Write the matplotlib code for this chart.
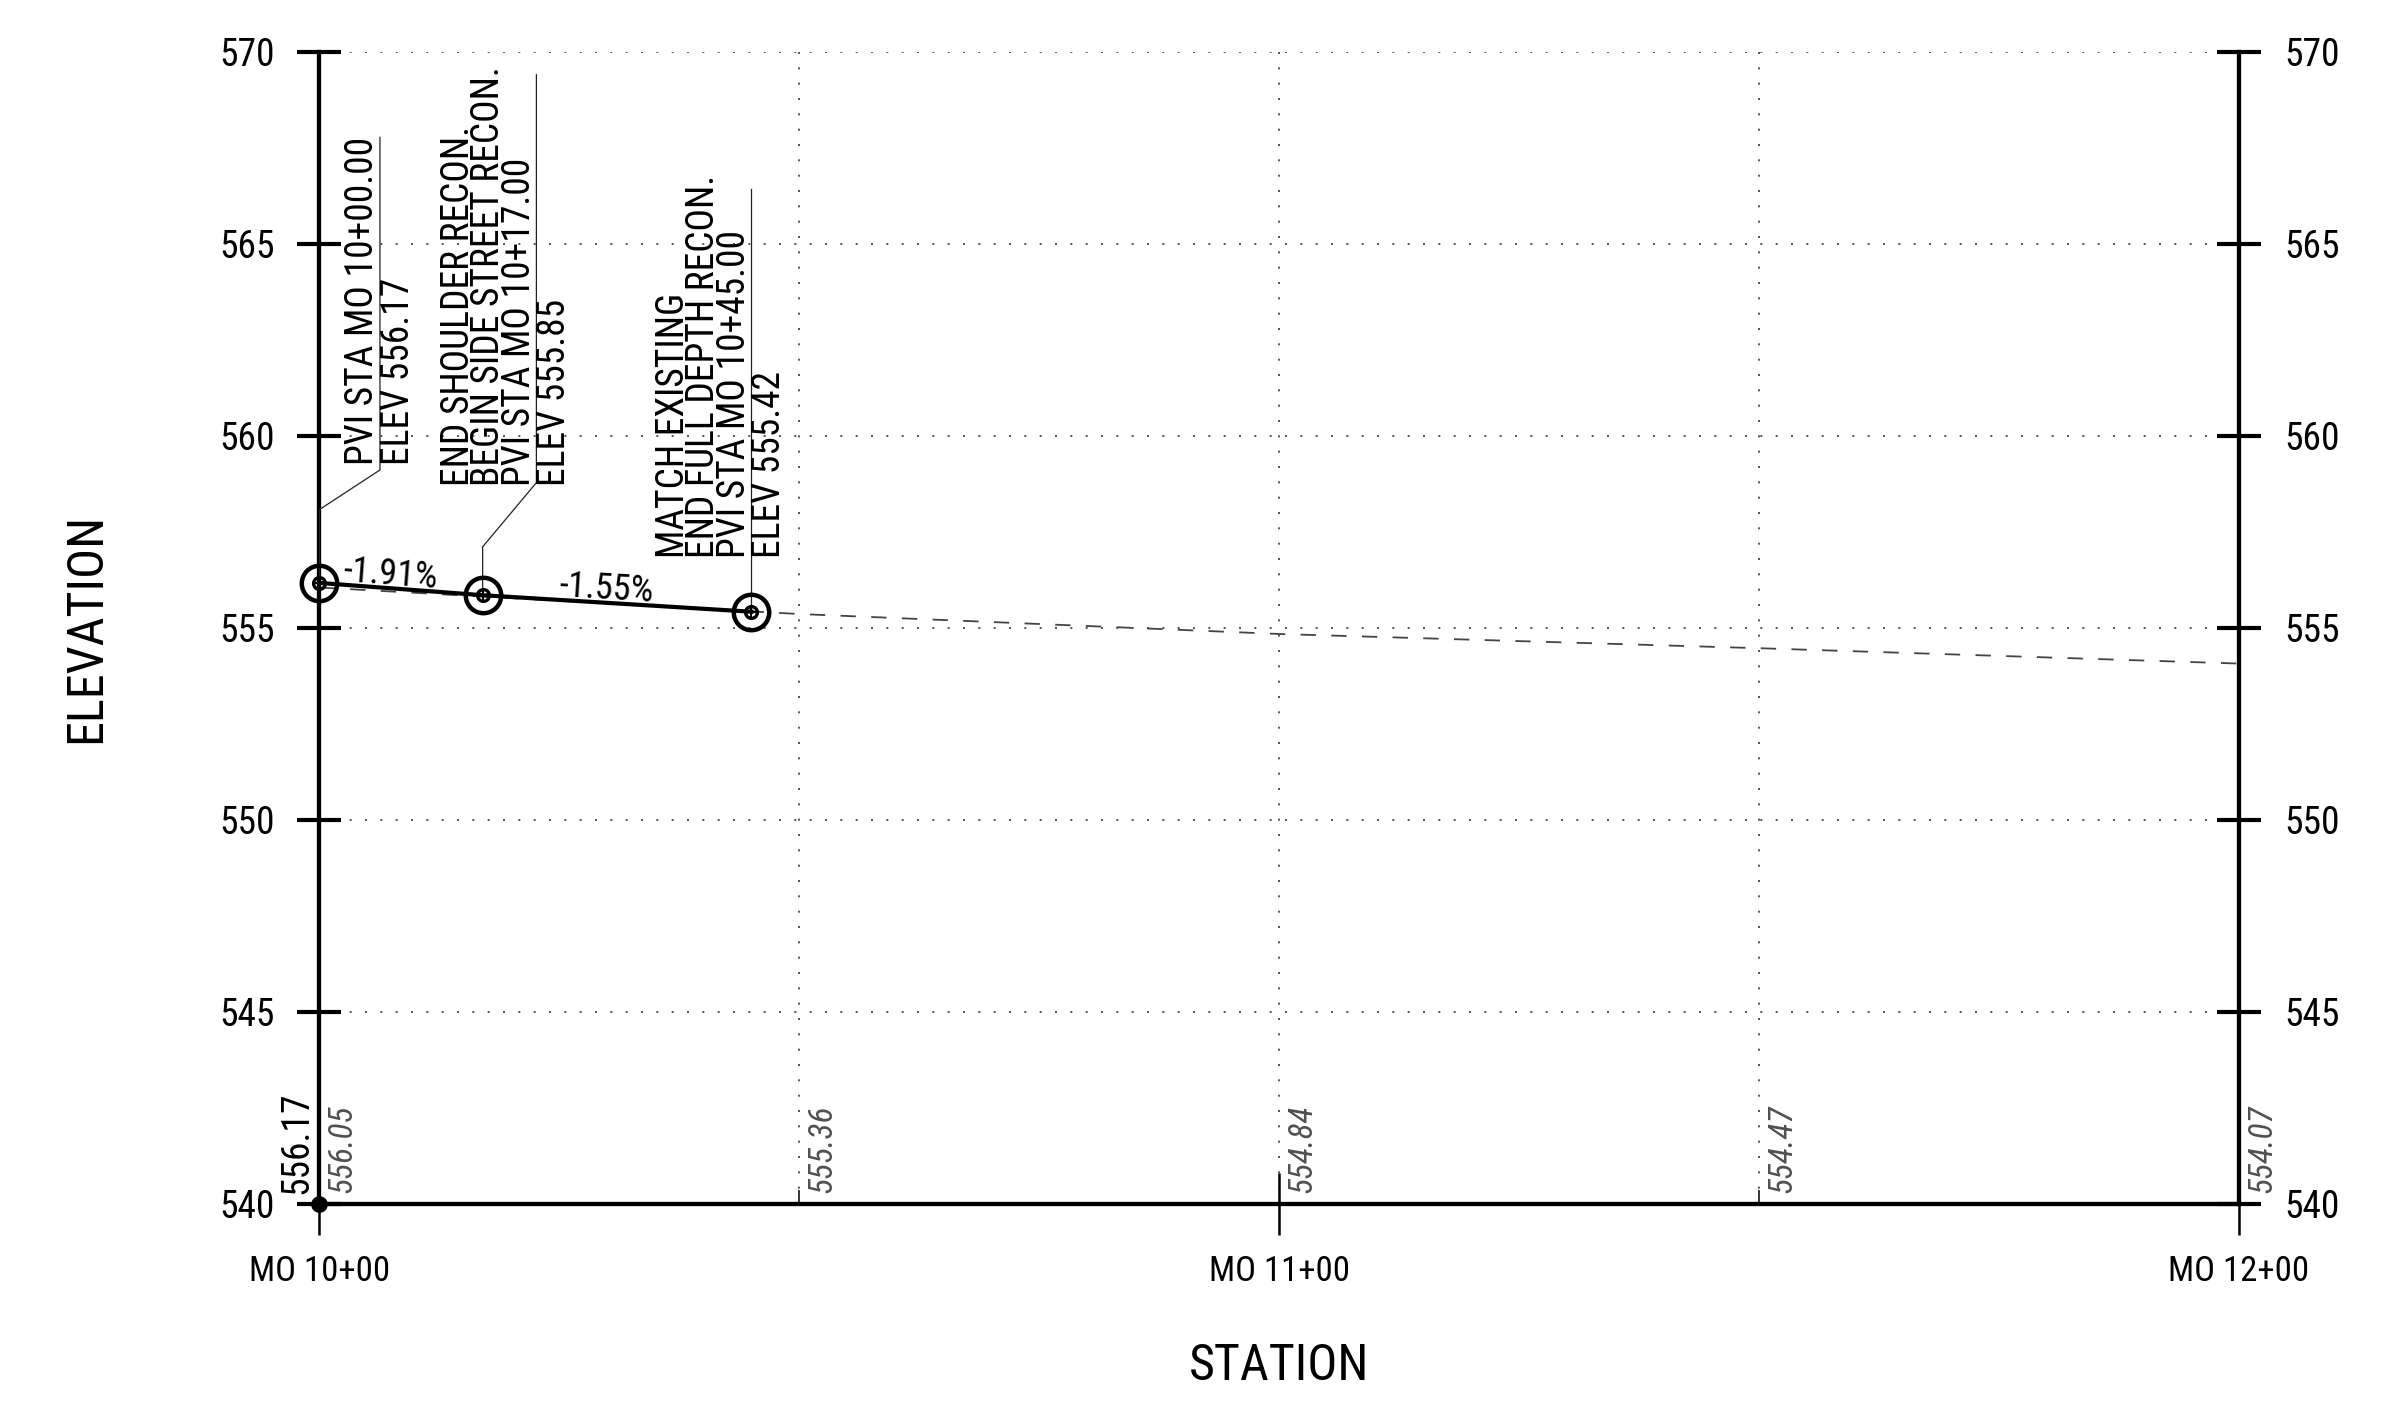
import numpy as np
import matplotlib
matplotlib.use("Agg")
import matplotlib.pyplot as plt
from matplotlib import font_manager as fm

# proposed profile (PVIs)
pvi_sta = [1000, 1017, 1045]
pvi_elev = [556.17, 555.85, 555.42]
grade_labels = ['-1.91%', '-1.55%']

# existing ground, labelled every 50 ft
eg_sta = [1000, 1050, 1100, 1150, 1200]
eg_elev = [556.05, 555.36, 554.84, 554.47, 554.07]

# axes ticks
sta_ticks = [1000, 1100, 1200]
sta_labels = ['MO 10+00', 'MO 11+00', 'MO 12+00']
sta_minor = [1050, 1150]
elev_ticks = [540, 545, 550, 555, 560, 565, 570]

# PVI callout text (lines left of the leader, then the line right of it)
pvi_notes = [
    ['PVI STA MO 10+00.00'],
    ['END SHOULDER RECON.', 'BEGIN SIDE STREET RECON.', 'PVI STA MO 10+17.00'],
    ['MATCH EXISTING', 'END FULL DEPTH RECON.', 'PVI STA MO 10+45.00'],
]
pvi_elev_notes = ['ELEV 556.17', 'ELEV 555.85', 'ELEV 555.42']

# look for a narrow sans face, the drawing uses a condensed CAD font
narrow_stretch = ('condensed', 'semi-condensed', 'extra-condensed', 'ultra-condensed')
found = {}
for f in fm.fontManager.ttflist:
    nm = f.name.lower()
    if 'mono' in nm or 'serif' in nm:
        continue
    if f.stretch in narrow_stretch or 'narrow' in nm or 'condensed' in nm:
        found.setdefault(f.name, f.stretch)
prefer = ['Liberation Sans Narrow', 'Roboto Condensed', 'DejaVu Sans Condensed',
          'DejaVu Sans', 'Noto Sans', 'Open Sans Condensed', 'Open Sans', 'Roboto']
narrow = None
for p in prefer:
    if p in found:
        narrow = p
        break
if narrow is None and found:
    narrow = sorted(found)[0]

if narrow:
    plt.rcParams['font.family'] = [narrow, 'DejaVu Sans']
    plt.rcParams['font.stretch'] = 'condensed'
    k = 1.0
else:
    plt.rcParams['font.family'] = ['DejaVu Sans']
    k = 0.8

fig = plt.figure(figsize=(23.85, 14.15), dpi=100)
ax = fig.add_axes([0.13396, 0.14912, 0.80482, 0.81434])
ax.set_xlim(1000, 1200)
ax.set_ylim(540, 570)

for s in ['left', 'right', 'bottom']:
    ax.spines[s].set_linewidth(3.1)
    ax.spines[s].set_color('black')
ax.spines['top'].set_visible(False)

ax.set_yticks(elev_ticks)
ax.set_xticks(sta_ticks)
ax.set_xticklabels(sta_labels)
ax.set_xticks(sta_minor, minor=True)

ax.tick_params(axis='y', which='major', direction='inout', length=31, width=3.0,
               labelsize=27 * k, pad=17, left=True, right=True,
               labelleft=True, labelright=True)
ax.tick_params(axis='x', which='major', direction='inout', length=44, width=1.8,
               labelsize=25 * k, pad=15)
ax.tick_params(axis='x', which='minor', direction='in', length=10, width=1.1)

ax.set_axisbelow(True)
grid_kw = dict(color='#3a3a3a', linestyle=(0, (1.2, 8)), linewidth=1.2)
ax.grid(True, axis='x', which='both', **grid_kw)
ax.grid(True, axis='y', which='major', **grid_kw)

# existing ground
ax.plot(eg_sta, eg_elev, color='#444444', lw=1.3, linestyle=(0, (8.5, 8.5)), zorder=2)

# proposed grade line and PVI symbols
ax.plot(pvi_sta, pvi_elev, color='black', lw=3.0, zorder=4, clip_on=False)
ax.plot(pvi_sta, pvi_elev, 'o', ms=25.5, mfc='none', mec='black', mew=3.2,
        zorder=5, clip_on=False)
ax.plot(pvi_sta, pvi_elev, 'o', ms=8.5, mfc='none', mec='black', mew=2.4,
        zorder=5, clip_on=False)
ax.plot(pvi_sta, pvi_elev, '+', ms=8.5, mec='black', mew=1.5,
        zorder=5, clip_on=False)

# grade labels along each tangent
for i, g in enumerate(grade_labels):
    x0, x1 = pvi_sta[i], pvi_sta[i + 1]
    z0, z1 = pvi_elev[i], pvi_elev[i + 1]
    ang = np.degrees(np.arctan2(z1 - z0, x1 - x0))
    xm, zm = (x0 + x1) / 2 - 1.1, (z0 + z1) / 2 + 0.38
    ax.text(xm, zm, g, fontsize=26 * k, ha='center', va='center', rotation=ang,
            transform_rotates_text=True, rotation_mode='anchor', zorder=6)

# callout leaders: (station of vertical leader, elbow start, elbow end, top, text bottom)
leaders = [
    (1006.3, 558.08, 559.11, 567.77, 559.25),
    (1022.6, 557.11, 558.78, 569.40, 558.69),
    (1045.0, None, None, 566.42, 556.83),
]
for i, (lx, e0, e1, top, tb) in enumerate(leaders):
    s, z = pvi_sta[i], pvi_elev[i]
    if e0 is None:
        xs, zs = [s, lx], [z, top]
    else:
        xs, zs = [s, s, lx, lx], [z, e0, e1, top]
    ax.plot(xs, zs, color='#222222', lw=0.9, zorder=3, clip_on=False)
    lines = pvi_notes[i]
    n = len(lines)
    for j, txt in enumerate(lines):
        xj = lx - 1.8 - 3.15 * (n - 1 - j)
        ax.text(xj, tb, txt, rotation=90, fontsize=27 * k, ha='center', va='bottom')
    ax.text(lx + 1.9, tb, pvi_elev_notes[i], rotation=90, fontsize=27 * k,
            ha='center', va='bottom')

# elevations along the bottom
ax.plot([pvi_sta[0]], [540], 'o', color='black', ms=11, zorder=6, clip_on=False)
ax.text(pvi_sta[0] - 2.4, 540.26, f'{pvi_elev[0]:.2f}', rotation=90, fontsize=27 * k,
        ha='center', va='bottom')
for s, z in zip(eg_sta, eg_elev):
    ax.text(s + 2.4, 540.28, f'{z:.2f}', rotation=90, fontsize=24 * k,
            fontstyle='italic', color='#505050', ha='center', va='bottom')

ax.set_xlabel('STATION', fontsize=36 * k)
ax.xaxis.set_label_coords(0.5, -0.141)
ax.xaxis.label.set_va('center')
ax.set_ylabel('ELEVATION', fontsize=36 * k)
ax.yaxis.set_label_coords(-0.1216, 0.5)
ax.yaxis.label.set_va('center')

fig.savefig('out.png', dpi=100)
